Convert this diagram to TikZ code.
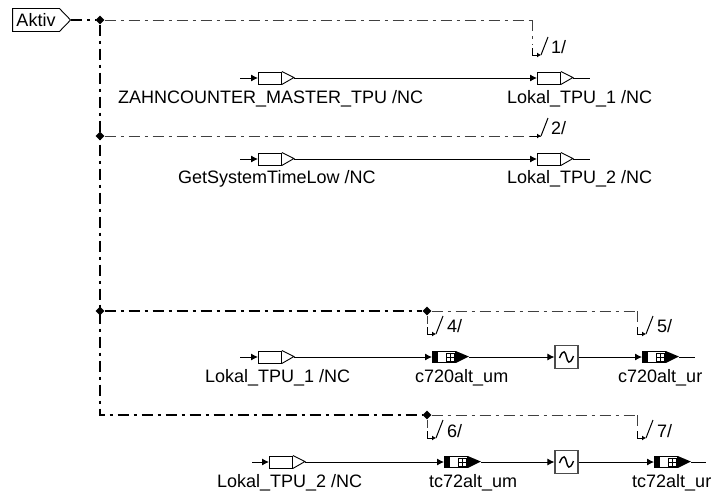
\documentclass[tikz,border=0pt]{standalone}
\usepackage{fontspec}
\setmainfont{Liberation Sans}
\usetikzlibrary{arrows.meta,shapes.geometric,shapes.symbols}
\tikzset{
  sig/.style={line width=0.9pt, -{Latex[length=7pt,width=7pt]}},
  wire/.style={line width=0.9pt},
  ctrl/.style={line width=0.9pt, black!75, dash pattern=on 11pt off 5pt on 3pt off 5pt},
  ctrlbold/.style={line width=1.4pt, dash pattern=on 11pt off 5pt on 3pt off 5pt},
  corner/.style={line width=0.9pt, -{Latex[length=4pt,width=5pt]}},
  tick/.style={line width=1pt},
  junct/.style={diamond, fill=black, inner sep=0pt, minimum size=9pt},
  inbox/.style={draw, line width=0.9pt, fill=white, anchor=west, inner sep=0pt, minimum width=23pt, minimum height=12pt},
  outbox/.style={draw, line width=0.9pt, fill=white, anchor=west, inner sep=0pt, minimum width=18pt, minimum height=11pt},
  plusbox/.style={draw, line width=0.9pt, inner sep=0pt, minimum size=8pt},
  filterbox/.style={draw=black!70, line width=1.2pt, fill=white, inner sep=0pt, minimum size=23pt},
  lbl/.style={anchor=base west, inner sep=0pt, font=\fontsize{18}{20}\selectfont},
}
% plain element: box with open tip
\newcommand{\inelem}[3]{
  \node[inbox] (#1) at (#2,#3) {};
  \draw[line width=0.9pt] (#1.north east) -- ++(12,6) -- (#1.south east);
  \coordinate (#1t) at ([xshift=12pt]#1.east);
}
% black element: box between black foot and black tip
\newcommand{\outelem}[3]{
  \node[outbox] (#1) at (#2+5,#3) {};
  \fill ([xshift=-5pt]#1.north west) rectangle (#1.south west);
  \fill (#1.north east) -- ++(13,5.5) -- (#1.south east) -- cycle;
  \node[plusbox] (#1p) at ([xshift=4pt]#1.center) {};
  \draw[line width=0.6pt] (#1p.north) -- (#1p.south) (#1p.west) -- (#1p.east);
  \coordinate (#1t) at ([xshift=13pt]#1.east);
}
\newcommand{\filterelem}[3]{
  \node[filterbox] (#1) at (#2,#3) {};
  \draw[line width=1.4pt] ([xshift=-7pt,yshift=-1pt]#1.center) .. controls ([xshift=-3pt,yshift=9pt]#1.center) and ([xshift=-1pt,yshift=5pt]#1.center) .. (#1.center) .. controls ([xshift=1pt,yshift=-5pt]#1.center) and ([xshift=3pt,yshift=-9pt]#1.center) .. ([xshift=7pt,yshift=1pt]#1.center);
}
\begin{document}
\begin{tikzpicture}[x=1pt,y=-1pt]
  \useasboundingbox (0,0) rectangle (712,493);
  % control lines
  \node[draw, line width=0.9pt, signal, signal to=east, signal pointer angle=92, inner sep=0pt, minimum width=58pt, minimum height=23pt, font=\fontsize{18}{20}\selectfont] (aktiv) at (36,20) {Aktiv};
  \node[junct] (j1) at (100,20) {};
  \node[junct] (j2) at (100,136) {};
  \node[junct] (j3) at (100,311) {};
  \coordinate (j5) at (100,415);
  \node[junct] (j4) at (427,311) {};
  \node[junct] (j6) at (427,415) {};
  \coordinate (c1) at (532,20);
  \coordinate (c5) at (637,311);
  \coordinate (c7) at (637,415);
  \draw[ctrlbold] (aktiv.east) -- (j1);
  \draw[ctrlbold] (j1) -- (j5) -- (j6);
  \draw[ctrlbold] (j3) -- (j4);
  \draw[ctrl] (j1) -- (c1);
  \draw[ctrl] (j2) -- (541,136) coordinate (e2);
  \draw[ctrl] (j4) -- (c5);
  \draw[ctrl] (j6) -- (c7);
  % enable ticks
  \foreach \n/\x/\y/\v in {c1/541/55/532,j4/436/334/427,c5/646/334/637,j6/436/438/427,c7/646/438/637}{
    \draw[ctrl] (\n) -- (\v,\y-10);
    \draw[corner] (\v,\y-7) |- (\x,\y);
    \draw[tick] (\x,\y) -- ++(7,-18);
  }
  \draw[corner] (530,136) -- (e2);
  \draw[tick] (e2) -- ++(7,-18);
  \node[lbl] (n1) at (551,53) {1/};
  \node[lbl] (n2) at (551,134) {2/};
  \node[lbl] (n4) at (447,332) {4/};
  \node[lbl] (n5) at (657,332) {5/};
  \node[lbl] (n6) at (447,437) {6/};
  \node[lbl] (n7) at (657,437) {7/};
  % row 1
  \inelem{za}{258}{78}
  \inelem{la}{537}{78}
  \coordinate (za0) at (240,78);
  \coordinate (la1) at (590,78);
  \draw[sig] (za0) -- (za);
  \draw[sig] (zat) -- (la);
  \draw[wire] (lat) -- (la1);
  \node[lbl] (zal) at (118,103) {ZAHNCOUNTER\_MASTER\_TPU /NC};
  \node[lbl] (lal) at (507,103) {Lokal\_TPU\_1 /NC};
  % row 2
  \inelem{gs}{258}{159}
  \inelem{lb}{537}{159}
  \coordinate (gs0) at (240,159);
  \coordinate (lb1) at (590,159);
  \draw[sig] (gs0) -- (gs);
  \draw[sig] (gst) -- (lb);
  \draw[wire] (lbt) -- (lb1);
  \node[lbl] (gsl) at (178,183) {GetSystemTimeLow /NC};
  \node[lbl] (lbl1) at (507,183) {Lokal\_TPU\_2 /NC};
  % row 3
  \inelem{lc}{258}{357}
  \outelem{um}{432}{357}
  \filterelem{fa}{566.5}{357}
  \outelem{ur}{642}{357}
  \coordinate (lc0) at (240,357);
  \coordinate (ur1) at (695,357);
  \draw[sig] (lc0) -- (lc);
  \draw[sig] (lct) -- ([xshift=-5pt]um.west);
  \draw[sig] (umt) -- (fa);
  \draw[sig] (fa) -- ([xshift=-5pt]ur.west);
  \draw[wire] (urt) -- (ur1);
  \node[lbl] (lcl) at (205,382) {Lokal\_TPU\_1 /NC};
  \node[lbl] (uml) at (415,382) {c720alt\_um};
  \node[lbl] (url) at (618,382) {c720alt\_ur};
  % row 4
  \inelem{ld}{269}{462}
  \outelem{tm}{444}{462}
  \filterelem{fb}{566.5}{462}
  \outelem{tr}{654}{462}
  \coordinate (ld0) at (252,462);
  \coordinate (tr1) at (706,462);
  \draw[sig] (ld0) -- (ld);
  \draw[sig] (ldt) -- ([xshift=-5pt]tm.west);
  \draw[sig] (tmt) -- (fb);
  \draw[sig] (fb) -- ([xshift=-5pt]tr.west);
  \draw[wire] (trt) -- (tr1);
  \node[lbl] (ldl) at (217,487) {Lokal\_TPU\_2 /NC};
  \node[lbl] (tml) at (429,487) {tc72alt\_um};
  \node[lbl] (trl) at (632,487) {tc72alt\_ur};
\end{tikzpicture}
\end{document}
